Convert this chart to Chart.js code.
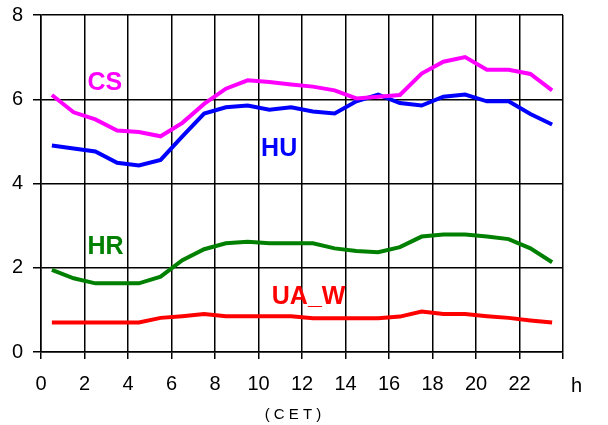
<!DOCTYPE html>
<html>
<head>
<meta charset="utf-8">
<script src="https://cdn.jsdelivr.net/npm/chart.js@4/dist/chart.umd.min.js"></script>
<style>
  body { margin: 0; background: #fff; }
  #wrap { width: 608px; height: 425px; }
</style>
</head>
<body>
<div id="wrap"><canvas id="chart"></canvas></div>
<script>
// hours (half-hour midpoints, CET)
var hours = [0.5, 1.5, 2.5, 3.5, 4.5, 5.5, 6.5, 7.5, 8.5, 9.5, 10.5, 11.5,
             12.5, 13.5, 14.5, 15.5, 16.5, 17.5, 18.5, 19.5, 20.5, 21.5, 22.5, 23.5];
var cs   = [6.10, 5.69, 5.52, 5.26, 5.22, 5.12, 5.44, 5.89, 6.25, 6.45, 6.41, 6.35,
            6.30, 6.21, 6.02, 6.06, 6.10, 6.61, 6.89, 7.00, 6.70, 6.70, 6.60, 6.21];
var hu   = [4.90, 4.83, 4.76, 4.49, 4.43, 4.56, 5.12, 5.66, 5.81, 5.85, 5.75, 5.81,
            5.71, 5.66, 5.95, 6.11, 5.91, 5.85, 6.06, 6.11, 5.95, 5.95, 5.65, 5.40];
var hr   = [1.95, 1.75, 1.63, 1.63, 1.63, 1.79, 2.18, 2.44, 2.58, 2.62, 2.58, 2.58,
            2.58, 2.46, 2.40, 2.37, 2.49, 2.74, 2.79, 2.79, 2.74, 2.68, 2.46, 2.13];
var uaw  = [0.70, 0.70, 0.70, 0.70, 0.70, 0.81, 0.85, 0.90, 0.85, 0.85, 0.85, 0.85,
            0.80, 0.80, 0.80, 0.80, 0.84, 0.96, 0.90, 0.90, 0.85, 0.81, 0.75, 0.70];
var xTicks = [0, 2, 4, 6, 8, 10, 12, 14, 16, 18, 20, 22];

var FONT = "'Liberation Sans', Arial, sans-serif";

function pts(ys) {
    var out = [];
    for (var i = 0; i < hours.length; i++) out.push({x: hours[i], y: ys[i]});
    return out;
}

// series name labels, anchored in data units (left edge, text baseline)
var seriesLabels = [
    {text: 'CS',   x: 2.14,  y: 6.21, color: '#ff00ff'},
    {text: 'HU',   x: 10.12, y: 4.66, color: '#0000ff'},
    {text: 'HR',   x: 2.14,  y: 2.33, color: '#008000'},
    {text: 'UA_W', x: 10.61, y: 1.14, color: '#ff0000'}
];

var textPlugin = {
    id: 'texts',
    afterDraw: function(chart) {
        var ctx = chart.ctx, xs = chart.scales.x, ys = chart.scales.y;
        ctx.save();
        ctx.textAlign = 'left';
        ctx.textBaseline = 'alphabetic';
        ctx.font = 'bold 25px ' + FONT;
        seriesLabels.forEach(function(l) {
            ctx.fillStyle = l.color;
            ctx.fillText(l.text, xs.getPixelForValue(l.x), ys.getPixelForValue(l.y));
        });
        ctx.fillStyle = '#000';
        ctx.font = '20px ' + FONT;
        ctx.fillText('h', xs.right + 8, 392);
        ctx.font = '15px ' + FONT;
        ctx.textAlign = 'center';
        ctx.fillText('( C E T )', 293, 419);
        ctx.restore();
    }
};

function ds(label, data, color) {
    return {
        label: label,
        data: pts(data),
        borderColor: color,
        backgroundColor: color,
        borderWidth: 4,
        pointRadius: 0,
        tension: 0,
        fill: false
    };
}

new Chart(document.getElementById('chart'), {
    type: 'line',
    data: {
        datasets: [
            ds('CS', cs, '#ff00ff'),
            ds('HU', hu, '#0000ff'),
            ds('HR', hr, '#008000'),
            ds('UA_W', uaw, '#ff0000')
        ]
    },
    options: {
        responsive: true,
        maintainAspectRatio: false,
        animation: false,
        layout: { padding: { top: 15, right: 45, left: 0, bottom: 0 } },
        plugins: { legend: { display: false }, tooltip: { enabled: false } },
        scales: {
            x: {
                type: 'linear',
                min: 0,
                max: 24,
                afterFit: function(s) {
                    s.height = 73;
                    s.paddingLeft = 0;
                    s.paddingRight = 0;
                },
                afterBuildTicks: function(s) {
                    s.ticks = xTicks.concat([24]).map(function(v) { return {value: v}; });
                },
                ticks: {
                    color: '#000',
                    font: { family: FONT, size: 20 },
                    padding: 13,
                    maxRotation: 0,
                    autoSkip: false,
                    callback: function(v) { return xTicks.indexOf(v) >= 0 ? String(v) : ''; }
                },
                grid: { color: '#000', lineWidth: 1.5, tickLength: 7 },
                border: { color: '#000', width: 1.5 }
            },
            y: {
                min: 0,
                max: 8,
                afterFit: function(s) {
                    s.width = 41;
                    s.paddingTop = 0;
                    s.paddingBottom = 0;
                },
                ticks: {
                    stepSize: 2,
                    color: '#000',
                    font: { family: FONT, size: 20 },
                    padding: 10
                },
                grid: { color: '#000', lineWidth: 1.5, tickLength: 8 },
                border: { color: '#000', width: 1.5 }
            }
        }
    },
    plugins: [textPlugin]
});
</script>
</body>
</html>
